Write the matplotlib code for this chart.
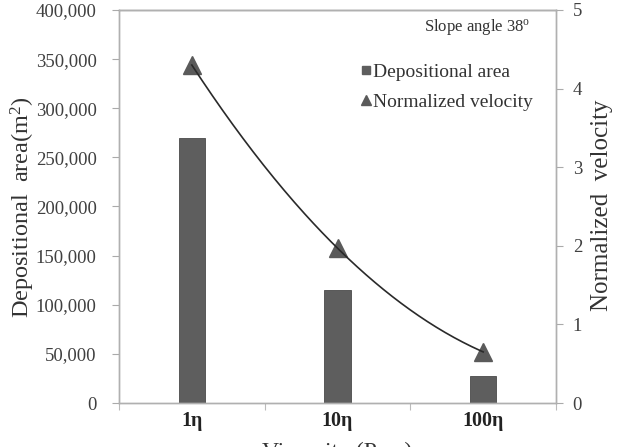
import numpy as np
import matplotlib
matplotlib.use("Agg")
import matplotlib.pyplot as plt
from matplotlib.lines import Line2D

plt.rcParams['font.family'] = ['Liberation Serif', 'DejaVu Serif']
plt.rcParams['mathtext.fontset'] = 'custom'
plt.rcParams['mathtext.rm'] = 'Liberation Serif'
plt.rcParams['mathtext.it'] = 'Liberation Serif:italic'

categories = ["1η", "10η", "100η"]
depositional_area = [270000, 115000, 27500]
normalized_velocity = [4.30, 1.97, 0.65]
left_ticks = [0, 50000, 100000, 150000, 200000, 250000, 300000, 350000, 400000]
right_ticks = [0, 1, 2, 3, 4, 5]

fig = plt.figure(figsize=(6.22, 4.47), dpi=100)
ax = fig.add_axes([119/622, 1-403/447, (556-119)/622, (403-10)/447])
ax2 = ax.twinx()

x = np.arange(1, len(categories) + 1)
bar_col = '#5e5e5e'
ax.bar(x, depositional_area, width=0.18, color=bar_col, edgecolor='#4a4a4a', linewidth=0.6, zorder=2)

ax.set_xlim(0.5, 3.5)
ax.set_ylim(0, 400000)
ax.set_yticks(left_ticks)
ax.set_yticklabels([f"{v:,}" for v in left_ticks])
ax.set_xticks([0.5, 1.5, 2.5, 3.5])
ax.set_xticklabels([])
ax.set_xticks(x, minor=True)
ax.set_xticklabels(categories, minor=True, fontweight='bold', fontsize=14.5, color='#222222')
ax.tick_params(axis='x', which='minor', length=0, pad=6)
ax.tick_params(axis='x', which='major', length=5, direction='out', color='#bbbbbb')
ax.tick_params(axis='y', length=5, direction='out', color='#aaaaaa', labelsize=13.5, labelcolor='#404040', pad=11)

ax2.set_ylim(0, 5)
ax2.set_yticks(right_ticks)
ax2.tick_params(axis='y', length=5, direction='out', color='#aaaaaa', labelsize=13.5, labelcolor='#404040', pad=7)

# trendline (2nd order polynomial through the points)
coef = np.polyfit(x, normalized_velocity, 2)
xs = np.linspace(1, 3, 200)
ax2.plot(x, normalized_velocity, linestyle='none', marker='^', markersize=13, color='#5a5a5a', zorder=3)
ax2.plot(xs, np.polyval(coef, xs), color='#2a2a2a', linewidth=1.2, zorder=4)

for a in (ax, ax2):
    for s in a.spines.values():
        s.set_color('#b0b0b0')
        s.set_linewidth(1.0)
ax.spines['top'].set_color('#777777')

fig.text(23/622, 1-207/447, "Depositional  area(m$^2$)", rotation=90, ha='center', va='center',
         fontsize=17.5, color='#333333')
fig.text(602/622, 1-205/447, "Normalized  velocity", rotation=90, ha='center', va='center',
         fontsize=18, color='#333333')
fig.text(337/622, 1-442/447, "Viscosity (Pa·s)", ha='center', va='top', fontsize=17, color='#333333')

ax.text((530-119)/437, 0.958, "Slope angle 38$^{\\rm o}$", transform=ax.transAxes, ha='right', va='center',
        fontsize=12, color='#333333')

handles = [Line2D([], [], linestyle='none', marker='s', markersize=5.5, color='#5e5e5e'),
           Line2D([], [], linestyle='none', marker='^', markersize=7, color='#5a5a5a')]
ax2.legend(handles, ["Depositional area", "Normalized velocity"], loc='upper left',
           bbox_to_anchor=((348-119)/437, 0.9), frameon=False, fontsize=14, handlelength=0.45,
           handletextpad=0.15, labelspacing=0.65, labelcolor='#333333', borderpad=0.2)

fig.savefig("out.png", dpi=100)
